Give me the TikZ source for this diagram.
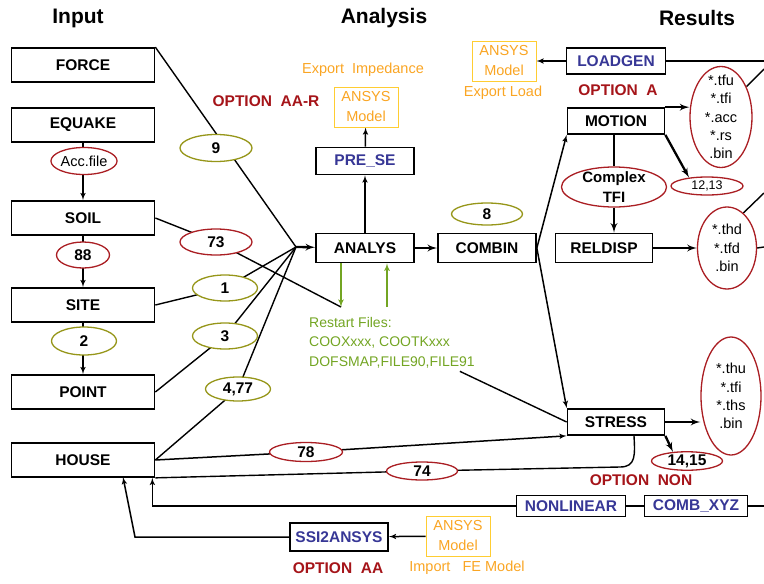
\documentclass[tikz,border=0pt]{standalone}
\usepackage{fontspec}
\setmainfont{Liberation Sans}
\usepackage{xcolor}
\usepackage{tikz}
\usetikzlibrary{shapes, arrows, positioning, calc, backgrounds}
\definecolor{optred}{RGB}{165,20,25}
\definecolor{tagred}{RGB}{170,30,35}
\definecolor{tagolive}{RGB}{150,150,25}
\definecolor{progblue}{RGB}{55,55,150}
\definecolor{exportorange}{RGB}{250,165,35}
\definecolor{ansysyellow}{RGB}{255,205,50}
\definecolor{restartgreen}{RGB}{115,165,35}
\tikzset{
    module/.style={
        rectangle,
        draw=black,
        line width=1.7pt,
        fill=white,
        inner sep=0pt,
        font=\fontsize{15.5}{18}\selectfont\bfseries
    },
    inputmod/.style={module, minimum width=143pt, minimum height=34pt},
    analysmod/.style={module, minimum width=98pt, minimum height=29pt},
    resultmod/.style={module, minimum width=97pt, minimum height=26pt},
    toolmod/.style={module, text=progblue, minimum height=22pt},
    tag/.style={
        ellipse,
        line width=1.3pt,
        fill=white,
        inner sep=0pt,
        minimum height=26pt,
        font=\fontsize{15.5}{18}\selectfont\bfseries
    },
    redtag/.style={tag, draw=tagred},
    olivetag/.style={tag, draw=tagolive},
    fileset/.style={
        ellipse,
        draw=tagred,
        line width=1.3pt,
        fill=white,
        inner xsep=0pt,
        inner ysep=-12pt,
        align=center,
        font=\fontsize{14.5}{18.2}\selectfont
    },
    ansysbox/.style={
        rectangle,
        draw=ansysyellow,
        line width=0.9pt,
        fill=white,
        text=exportorange,
        align=center,
        minimum width=64pt,
        minimum height=40pt,
        inner sep=0pt,
        font=\fontsize{14.5}{20}\selectfont
    },
    exportnote/.style={text=exportorange, font=\fontsize{14.5}{18}\selectfont},
    optnote/.style={text=optred, font=\fontsize{15.5}{18}\selectfont\bfseries},
    heading/.style={font=\fontsize{21}{24}\selectfont\bfseries},
    conn/.style={draw, line width=1.4pt},
    flow/.style={draw, line width=1.5pt, -latex'},
    bigflow/.style={draw, line width=2.3pt, -latex'},
    restartflow/.style={draw, line width=1.6pt, restartgreen, -latex'}
}

\begin{document}
\begin{tikzpicture}[x=1pt, y=-1pt]
    \useasboundingbox (0,0) rectangle (764,584);

    % Headings
    \node[heading] (hin) at (78,18) {Input};
    \node[heading] (han) at (384,18) {Analysis};
    \node[heading] (hres) at (697,18) {Results};

    % Input column
    \node[inputmod] (force) at (83,65) {FORCE};
    \node[inputmod, below=24.3pt of force] (equake) {EQUAKE};
    \node[inputmod, below=57.3pt of equake] (soil) {SOIL};
    \node[inputmod, below=51.3pt of soil] (site) {SITE};
    \node[inputmod, below=51.3pt of site] (point) {POINT};
    \node[inputmod, below=32.3pt of point] (house) {HOUSE};

    \node[redtag, minimum width=65pt, minimum height=27pt, font=\fontsize{14.5}{18}\selectfont] (accfile) at (84,161) {Acc.file};
    \node[redtag, minimum width=53pt] (t88) at (83,255) {88};
    \node[olivetag, minimum width=65pt, minimum height=28pt] (t2) at (84,341) {2};

    % Tags on the way to the analysis
    \node[olivetag, minimum width=72pt, minimum height=27pt] (t9) at (216,148) {9};
    \node[redtag, minimum width=72pt] (t73) at (216,242) {73};
    \node[olivetag, minimum width=65pt] (t1) at (225,288) {1};
    \node[olivetag, minimum width=65pt] (t3) at (225,336) {3};
    \node[olivetag, minimum width=65pt, minimum height=24pt] (t477) at (238,389) {4,77};
    \node[redtag, minimum width=73pt, minimum height=19pt] (t78) at (306,452) {78};
    \node[redtag, minimum width=71pt, minimum height=18pt] (t74) at (422,471) {74};

    % Analysis column
    \coordinate (hub) at (296,247);
    \node[analysmod] (analys) at (365,248) {ANALYS};
    \node[analysmod, right=22.3pt of analys] (combin) {COMBIN};
    \node[olivetag, minimum width=71pt, minimum height=22pt] (t8) at (487,214) {8};
    \node[toolmod, minimum width=98pt, minimum height=27pt] (prese) at (365,161) {PRE\_SE};
    \node[ansysbox] (ansysimp) at (366,107) {ANSYS\\Model};
    \node[exportnote] (impnote) at (363,70) {Export\ \ Impedance};
    \node[optnote] (optaar) at (266,101) {OPTION\ \ AA-R};
    \node[ansysbox] (ansysload) at (504,61) {ANSYS\\Model};
    \node[exportnote] (loadnote) at (503,93) {Export Load};

    \node[anchor=north west, inner sep=0pt, align=left, text=restartgreen, font=\fontsize{14}{19.5}\selectfont] (restart) at (309,317) {Restart Files:\\COOXxxx, COOTKxxx\\DOFSMAP,FILE90,FILE91};
    \coordinate (rsdown) at (341,307);
    \coordinate (rsup) at (387,307);

    % Results column
    \node[toolmod, minimum width=99pt, minimum height=26pt] (loadgen) at (616,61) {LOADGEN};
    \node[optnote] (opta) at (618,90) {OPTION\ \ A};
    \node[resultmod] (motion) at (616,121) {MOTION};
    \node[fileset, font=\fontsize{15}{20}\selectfont\bfseries, minimum width=105pt, minimum height=40pt] (ctfi) at (614,187) {Complex\\TFI};
    \node[resultmod, minimum height=29pt] (reldisp) at (604,248) {RELDISP};
    \node[resultmod] (stress) at (616,422) {STRESS};
    \node[fileset, minimum width=62pt, minimum height=101pt] (motfiles) at (721,117) {*.tfu\\*.tfi\\*.acc\\*.rs\\.bin};
    \node[redtag, minimum width=72pt, minimum height=18pt, font=\fontsize{12.5}{15}\selectfont] (t1213) at (707,186) {12,13};
    \node[fileset, minimum width=59pt, minimum height=82pt] (relfiles) at (727,248) {*.thd\\*.tfd\\.bin};
    \node[fileset, minimum width=60pt, minimum height=118pt] (strfiles) at (731,396) {*.thu\\*.tfi\\*.ths\\.bin};
    \node[redtag, minimum width=71pt, minimum height=18pt] (t1415) at (687,461) {14,15};
    \node[optnote] (optnon) at (641,480) {OPTION\ \ NON};

    % Bottom row
    \node[toolmod, minimum width=109pt, minimum height=21pt] (nonlin) at (571,506) {NONLINEAR};
    \node[toolmod, minimum width=103pt, minimum height=21pt] (combxyz) at (696,506) {COMB\_XYZ};
    \node[toolmod, minimum width=98pt, minimum height=28pt] (ssi) at (339,537) {SSI2ANSYS};
    \node[optnote] (optaa) at (338,568) {OPTION\ \ AA};
    \node[ansysbox] (ansysfe) at (458,536) {ANSYS\\Model};
    \node[exportnote] (fenote) at (467,568) {Import\ \ \ FE Model};

    % Loose ends
    \coordinate (edgeload) at (764,61);
    \coordinate (edgemot) at (764,69);
    \coordinate (edgerelup) at (764,193);
    \coordinate (edgerel) at (764,247);
    \coordinate (edgecomb) at (764,506);
    \coordinate (ssibend) at (135,537);
    \coordinate (ssiin) at (123,477);
    \coordinate (loopturn) at (620,467);

    % Connections
    \begin{scope}[on background layer]
    \path[flow] (equake) -- (soil);
    \path[flow] (soil) -- (site);
    \path[flow] (site) -- (point);

    \path[conn] (force.north east) -- (hub);
    \path[conn] (soil.east) -- (t73.center) -- (rsdown);
    \path[conn] (site.east) -- (t1.center) -- (hub);
    \path[conn] (point.east) -- (t3.center) -- (hub);
    \path[conn] (house.east) -- (t477.center) -- (hub);
    \path[bigflow] (hub) -- (analys);
    \path[bigflow] (analys) -- (combin);
    \path[flow] (analys) -- (prese);
    \path[flow] (prese) -- (ansysimp);
    \path[restartflow] (analys.south -| rsdown) -- (rsdown);
    \path[restartflow] (rsup) -- (analys.south -| rsup);
    \path[conn] ([xshift=-15pt,yshift=-3pt]restart.south east) -- (stress.west);

    \path[flow] (combin.east) -- (motion.south west);
    \path[flow] (combin.east) -- (stress.north west);
    \path[flow] (loadgen) -- (ansysload);
    \path[conn] (loadgen) -- (edgeload);
    \path[bigflow] (motion.north east) -- (motion.north east -| motfiles.west);
    \path[bigflow] (motion.south east) -- (t1213.155);
    \path[conn] (ctfi.north |- motion.south) -- (ctfi.north);
    \path[bigflow] (ctfi.south) -- (ctfi.south |- reldisp.north);
    \path[bigflow] (reldisp) -- (relfiles);
    \path[bigflow] (stress.east) -- (stress.east -| strfiles.west);
    \path[bigflow] (stress.south east) -- (t1415.147);
    \path[conn] (motfiles.50) -- (edgemot);
    \path[conn] (relfiles.65) -- (edgerelup);
    \path[conn] (relfiles.east) -- (edgerel);

    \path[flow] (house.east) -- (t78.center) -- (stress.south west);
    \path[conn] (house.south east) -- (t74.center) -- (loopturn) .. controls (636,467) and (635,455) .. ([xshift=18pt]stress.south);
    \path[flow] (nonlin) -| ([xshift=-3pt]house.south east);
    \path[conn] (nonlin) -- (combxyz);
    \path[conn] (combxyz) -- (edgecomb);
    \path[flow] (ssi.west) -- (ssibend) -- (ssiin);
    \path[flow] (ansysfe) -- (ssi);
    \end{scope}

\end{tikzpicture}
\end{document}
